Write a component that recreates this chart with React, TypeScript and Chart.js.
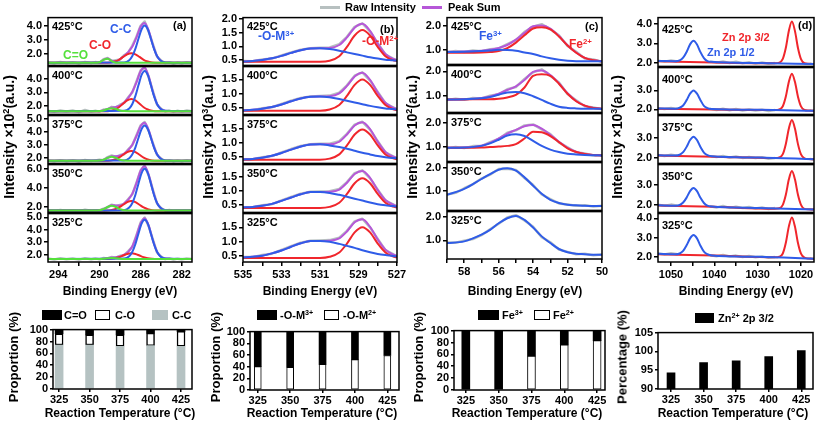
import React, { useEffect, useRef } from 'react';
import { Chart, registerables } from 'chart.js';
Chart.register(...registerables);

const FONT = 'Arial, "Liberation Sans", Helvetica, sans-serif';

// ---------------- DATA ----------------
const TOP_TEMPS = ['425°C', '400°C', '375°C', '350°C', '325°C'];

// (a) C 1s
const A_SUM_X = [295, 291, 290.4, 290, 289.6, 289.2, 288.8, 288.4, 288, 287.6, 287.2, 286.8, 286.4, 286, 285.6, 285.2, 284.8, 284.4, 284, 283.6, 283, 282, 281];
const A_SUM = [
  [1.4, 1.4, 1.4, 1.44, 1.61, 1.70, 1.55, 1.53, 1.66, 1.88, 2.15, 2.53, 3.17, 3.91, 4.18, 3.62, 2.64, 1.87, 1.53, 1.42, 1.4, 1.4, 1.4],
  [1.57, 1.57, 1.57, 1.58, 1.64, 1.75, 1.86, 1.90, 2.00, 2.24, 2.58, 3.04, 3.76, 4.59, 4.87, 4.19, 3.03, 2.13, 1.72, 1.60, 1.57, 1.57, 1.57],
  [1.8, 1.8, 1.8, 1.82, 1.89, 2.03, 2.15, 2.15, 2.18, 2.35, 2.63, 3.03, 3.69, 4.44, 4.70, 4.12, 3.09, 2.30, 1.93, 1.82, 1.8, 1.8, 1.8],
  [1.6, 1.6, 1.6, 1.63, 1.74, 1.98, 2.16, 2.14, 2.13, 2.35, 2.74, 3.38, 4.49, 5.78, 6.27, 5.35, 3.70, 2.40, 1.81, 1.64, 1.6, 1.6, 1.6],
  [1.65, 1.65, 1.65, 1.65, 1.67, 1.72, 1.76, 1.79, 1.85, 1.99, 2.22, 2.67, 3.50, 4.50, 4.92, 4.31, 3.14, 2.22, 1.80, 1.68, 1.65, 1.65, 1.65],
];
const A_RAW_X = [295, 294.4, 293.8, 293.2, 292.6, 292, 291.4, 290.8, 290.4, 290, 289.6, 289.2, 288.8, 288.4, 288, 287.6, 287.2, 286.8, 286.4, 286, 285.6, 285.2, 284.8, 284.4, 284, 283.6, 283.2, 282.8, 282.4, 282, 281.5, 281];
const A_RAW = [
  [1.43, 1.37, 1.45, 1.38, 1.44, 1.36, 1.46, 1.39, 1.45, 1.41, 1.66, 1.74, 1.52, 1.58, 1.63, 1.93, 2.12, 2.6, 3.22, 3.98, 4.28, 3.55, 2.7, 1.83, 1.56, 1.38, 1.44, 1.35, 1.42, 1.37, 1.44, 1.38],
  [1.6, 1.52, 1.63, 1.55, 1.62, 1.5, 1.66, 1.54, 1.61, 1.53, 1.7, 1.72, 1.9, 1.85, 2.06, 2.2, 2.63, 3.0, 3.82, 4.65, 4.92, 4.12, 3.1, 2.07, 1.76, 1.55, 1.62, 1.52, 1.6, 1.54, 1.63, 1.56],
  [1.83, 1.76, 1.85, 1.77, 1.84, 1.74, 1.86, 1.78, 1.83, 1.88, 1.85, 2.08, 2.2, 2.1, 2.24, 2.3, 2.68, 3.0, 3.75, 4.5, 4.76, 4.06, 3.15, 2.25, 1.97, 1.78, 1.85, 1.76, 1.83, 1.77, 1.84, 1.79],
  [1.63, 1.55, 1.66, 1.57, 1.64, 1.53, 1.67, 1.58, 1.64, 1.6, 1.8, 1.93, 2.22, 2.08, 2.19, 2.3, 2.8, 3.32, 4.55, 5.85, 6.33, 5.28, 3.78, 2.34, 1.86, 1.58, 1.65, 1.55, 1.62, 1.57, 1.64, 1.59],
  [1.68, 1.6, 1.7, 1.62, 1.69, 1.59, 1.71, 1.63, 1.69, 1.62, 1.72, 1.68, 1.8, 1.75, 1.9, 1.95, 2.27, 2.62, 3.56, 4.57, 4.98, 4.25, 3.2, 2.17, 1.84, 1.63, 1.7, 1.6, 1.67, 1.61, 1.69, 1.64],
];
const A_CC_X = [295, 287.6, 287.1, 286.8, 286.5, 286.2, 285.9, 285.6, 285.3, 285.0, 284.7, 284.4, 284.1, 283.6, 281];
const A_CC = [
  [1.4, 1.42, 1.58, 1.87, 2.39, 3.09, 3.74, 4.0, 3.74, 3.09, 2.39, 1.87, 1.58, 1.42, 1.4],
  [1.57, 1.6, 1.78, 2.12, 2.73, 3.55, 4.32, 4.62, 4.32, 3.55, 2.73, 2.12, 1.78, 1.6, 1.57],
  [1.8, 1.82, 1.99, 2.29, 2.83, 3.56, 4.23, 4.5, 4.23, 3.56, 2.83, 2.29, 1.99, 1.82, 1.8],
  [1.6, 1.64, 1.91, 2.39, 3.27, 4.46, 5.56, 6.0, 5.56, 4.46, 3.27, 2.39, 1.91, 1.64, 1.6],
  [1.65, 1.68, 1.87, 2.22, 2.85, 3.70, 4.49, 4.8, 4.49, 3.70, 2.85, 2.22, 1.87, 1.68, 1.65],
];
const A_CO_X = [295, 289.5, 288.9, 288.5, 288.1, 287.7, 287.3, 286.9, 286.5, 286.1, 285.7, 285.3, 284.9, 284.3, 281];
const A_CO = [
  [1.4, 1.4, 1.43, 1.49, 1.61, 1.81, 1.99, 2.07, 1.99, 1.81, 1.61, 1.49, 1.43, 1.4, 1.4],
  [1.57, 1.57, 1.61, 1.7, 1.87, 2.14, 2.39, 2.5, 2.39, 2.14, 1.87, 1.7, 1.61, 1.57, 1.57],
  [1.8, 1.8, 1.83, 1.9, 2.04, 2.26, 2.46, 2.55, 2.46, 2.26, 2.04, 1.9, 1.83, 1.8, 1.8],
  [1.6, 1.61, 1.64, 1.74, 1.92, 2.21, 2.48, 2.6, 2.48, 2.21, 1.92, 1.74, 1.64, 1.61, 1.6],
  [1.65, 1.65, 1.67, 1.71, 1.79, 1.92, 2.05, 2.1, 2.05, 1.92, 1.79, 1.71, 1.67, 1.65, 1.65],
];
const A_CDO_X = [295, 291, 290.5, 290, 289.6, 289.2, 288.8, 288.4, 288, 287.6, 287, 281];
const A_CDO = [
  [1.4, 1.4, 1.4, 1.44, 1.61, 1.69, 1.51, 1.41, 1.4, 1.4, 1.4, 1.4],
  [1.57, 1.57, 1.57, 1.58, 1.63, 1.74, 1.8, 1.74, 1.63, 1.58, 1.57, 1.57],
  [1.8, 1.8, 1.8, 1.82, 1.88, 2.02, 2.1, 2.02, 1.88, 1.82, 1.8, 1.8],
  [1.6, 1.6, 1.6, 1.63, 1.74, 1.97, 2.1, 1.97, 1.74, 1.63, 1.6, 1.6],
  [1.65, 1.65, 1.65, 1.65, 1.67, 1.71, 1.73, 1.71, 1.67, 1.65, 1.65, 1.65],
];
const A_Y_RANGE = [[1.22, 4.55], [1.33, 4.95], [1.6, 5.25], [1.4, 6.45], [1.4, 5.3]];
const A_Y_TICKS = [[2, 3, 4], [2, 3, 4], [2, 3, 4, 5], [2, 4, 6], [2, 3, 4, 5]];
const A_X_TICKS = [294, 292, 290, 288, 286, 284, 282];
const A_X_LABELS = [294, 290, 286, 282];

// (b) O 1s
const B_X = [535, 534.5, 534, 533.5, 533, 532.5, 532, 531.5, 531, 530.5, 530, 529.6, 529.2, 528.8, 528.4, 528, 527.6, 527.2, 527];
const B_M3 = [
  [0.44, 0.46, 0.50, 0.56, 0.65, 0.76, 0.86, 0.92, 0.93, 0.90, 0.84, 0.78, 0.72, 0.66, 0.60, 0.55, 0.51, 0.49, 0.47],
  [0.41, 0.43, 0.47, 0.53, 0.62, 0.73, 0.83, 0.89, 0.90, 0.87, 0.81, 0.75, 0.69, 0.63, 0.57, 0.52, 0.48, 0.46, 0.44],
  [0.41, 0.43, 0.47, 0.54, 0.64, 0.76, 0.87, 0.94, 0.95, 0.91, 0.85, 0.79, 0.72, 0.65, 0.59, 0.53, 0.49, 0.46, 0.45],
  [0.40, 0.42, 0.46, 0.53, 0.64, 0.76, 0.88, 0.96, 0.96, 0.93, 0.86, 0.79, 0.72, 0.65, 0.58, 0.52, 0.48, 0.45, 0.43],
  [0.46, 0.48, 0.52, 0.60, 0.70, 0.83, 0.95, 1.03, 1.03, 1.0, 0.93, 0.86, 0.79, 0.71, 0.64, 0.58, 0.54, 0.51, 0.49],
];
const B_M2 = [
  [0.43, 0.43, 0.43, 0.43, 0.43, 0.43, 0.43, 0.43, 0.43, 0.47, 0.64, 0.98, 1.40, 1.60, 1.40, 0.98, 0.64, 0.49, 0.46],
  [0.40, 0.40, 0.40, 0.40, 0.40, 0.40, 0.40, 0.40, 0.40, 0.44, 0.60, 0.92, 1.31, 1.50, 1.31, 0.92, 0.60, 0.45, 0.42],
  [0.40, 0.40, 0.40, 0.40, 0.40, 0.40, 0.40, 0.40, 0.40, 0.44, 0.59, 0.91, 1.30, 1.48, 1.30, 0.91, 0.59, 0.45, 0.42],
  [0.38, 0.38, 0.38, 0.38, 0.38, 0.38, 0.38, 0.38, 0.38, 0.42, 0.57, 0.89, 1.28, 1.46, 1.28, 0.89, 0.57, 0.43, 0.40],
  [0.44, 0.44, 0.44, 0.44, 0.44, 0.44, 0.44, 0.44, 0.44, 0.48, 0.63, 0.94, 1.33, 1.51, 1.33, 0.94, 0.63, 0.49, 0.46],
];
const B_SUM = [
  [0.44, 0.46, 0.50, 0.56, 0.65, 0.76, 0.86, 0.92, 0.93, 0.94, 1.05, 1.33, 1.69, 1.83, 1.57, 1.10, 0.72, 0.54, 0.50],
  [0.41, 0.43, 0.47, 0.53, 0.62, 0.73, 0.83, 0.89, 0.90, 0.91, 1.01, 1.27, 1.60, 1.73, 1.48, 1.04, 0.68, 0.51, 0.46],
  [0.41, 0.43, 0.47, 0.54, 0.64, 0.76, 0.87, 0.94, 0.95, 0.95, 1.04, 1.30, 1.62, 1.73, 1.49, 1.04, 0.68, 0.51, 0.47],
  [0.40, 0.42, 0.46, 0.53, 0.64, 0.76, 0.88, 0.96, 0.96, 0.97, 1.05, 1.30, 1.62, 1.73, 1.48, 1.03, 0.67, 0.50, 0.45],
  [0.46, 0.48, 0.52, 0.60, 0.70, 0.83, 0.95, 1.03, 1.03, 1.04, 1.12, 1.36, 1.68, 1.78, 1.52, 1.08, 0.73, 0.56, 0.51],
];
const B_RAW = [
  [0.46, 0.45, 0.52, 0.55, 0.67, 0.78, 0.88, 0.93, 0.95, 0.96, 1.08, 1.35, 1.72, 1.85, 1.55, 1.12, 0.7, 0.55, 0.48],
  [0.42, 0.42, 0.49, 0.52, 0.64, 0.75, 0.85, 0.9, 0.92, 0.93, 1.03, 1.29, 1.63, 1.75, 1.46, 1.06, 0.66, 0.52, 0.44],
  [0.42, 0.42, 0.49, 0.53, 0.66, 0.78, 0.89, 0.95, 0.97, 0.97, 1.06, 1.32, 1.65, 1.75, 1.47, 1.06, 0.66, 0.52, 0.45],
  [0.41, 0.41, 0.48, 0.52, 0.66, 0.78, 0.9, 0.97, 0.98, 0.99, 1.07, 1.32, 1.65, 1.75, 1.46, 1.05, 0.65, 0.51, 0.43],
  [0.47, 0.47, 0.54, 0.59, 0.72, 0.85, 0.97, 1.04, 1.05, 1.06, 1.14, 1.38, 1.71, 1.8, 1.5, 1.1, 0.71, 0.57, 0.49],
];
const B_Y_RANGE = [[0.3, 2.06], [0.27, 1.95], [0.27, 1.97], [0.22, 1.96], [0.3, 1.98]];
const B_Y_TICKS = [[0.5, 1, 1.5, 2], [0.5, 1, 1.5], [0.5, 1, 1.5], [0.5, 1, 1.5], [0.5, 1, 1.5]];
const B_X_TICKS = [535, 534, 533, 532, 531, 530, 529, 528, 527];
const B_X_LABELS = [535, 533, 531, 529, 527];

// (c) Fe 3p
const C_X = [59, 58, 57, 56.5, 56, 55.5, 55, 54.5, 54, 53.5, 53, 52.5, 52, 51.5, 51, 50.5, 50];
const C_FE3 = [
  [0.91, 0.92, 0.95, 0.97, 1.0, 0.99, 0.96, 0.89, 0.83, 0.73, 0.65, 0.59, 0.55, 0.53, 0.53, 0.53, 0.53],
  [0.87, 0.88, 0.92, 0.97, 1.06, 1.15, 1.17, 1.12, 1.0, 0.85, 0.70, 0.58, 0.53, 0.51, 0.5, 0.5, 0.49],
  [0.97, 0.98, 1.05, 1.15, 1.3, 1.47, 1.52, 1.45, 1.25, 1.05, 0.9, 0.8, 0.73, 0.7, 0.68, 0.67, 0.66],
  [0.84, 1.1, 1.53, 1.74, 1.93, 1.99, 1.89, 1.6, 1.24, 0.89, 0.63, 0.49, 0.41, 0.39, 0.37, 0.36, 0.36],
  [0.89, 0.96, 1.24, 1.44, 1.72, 1.93, 2.03, 1.86, 1.54, 1.17, 0.89, 0.64, 0.5, 0.44, 0.42, 0.4, 0.4],
];
const C_FE2 = [
  [0.88, 0.88, 0.89, 0.91, 0.95, 1.07, 1.30, 1.60, 1.88, 1.93, 1.84, 1.55, 1.18, 0.88, 0.67, 0.57, 0.53],
  [0.87, 0.87, 0.88, 0.88, 0.9, 0.95, 1.05, 1.35, 1.82, 1.88, 1.82, 1.5, 1.1, 0.8, 0.62, 0.53, 0.5],
  [0.97, 0.97, 0.98, 1.0, 1.02, 1.05, 1.12, 1.35, 1.62, 1.6, 1.45, 1.2, 0.95, 0.8, 0.72, 0.68, 0.66],
];
const C_SUM = [
  [0.92, 0.93, 0.96, 1.0, 1.08, 1.2, 1.42, 1.7, 1.97, 2.0, 1.88, 1.57, 1.19, 0.89, 0.67, 0.57, 0.53],
  [0.87, 0.88, 0.93, 0.99, 1.1, 1.25, 1.4, 1.65, 1.98, 2.03, 1.85, 1.52, 1.12, 0.81, 0.62, 0.53, 0.5],
  [0.97, 0.98, 1.06, 1.17, 1.35, 1.55, 1.7, 1.85, 1.9, 1.75, 1.5, 1.22, 0.97, 0.81, 0.72, 0.68, 0.66],
];
const C_RAW_X = [59, 58.5, 58, 57.5, 57, 56.5, 56, 55.5, 55, 54.5, 54, 53.5, 53, 52.5, 52, 51.5, 51, 50.5, 50];
const C_RAW = [
  [0.9, 0.95, 0.91, 0.97, 0.94, 1.03, 1.06, 1.24, 1.4, 1.74, 1.95, 2.06, 1.85, 1.6, 1.16, 0.92, 0.64, 0.6, 0.51],
  [0.85, 0.9, 0.86, 0.93, 0.91, 1.02, 1.08, 1.28, 1.37, 1.69, 1.96, 2.08, 1.82, 1.55, 1.09, 0.84, 0.6, 0.55, 0.48],
  [0.95, 1.0, 0.96, 1.04, 1.04, 1.2, 1.33, 1.58, 1.68, 1.88, 1.92, 1.72, 1.53, 1.19, 0.99, 0.79, 0.74, 0.66, 0.67],
  [0.86, 0.93, 1.13, 1.3, 1.55, 1.72, 1.96, 1.97, 1.92, 1.57, 1.27, 0.86, 0.66, 0.47, 0.43, 0.37, 0.39, 0.34, 0.37],
  [0.91, 0.9, 0.99, 1.06, 1.22, 1.47, 1.7, 1.96, 2.06, 1.84, 1.57, 1.14, 0.92, 0.62, 0.52, 0.42, 0.44, 0.38, 0.41],
];
const C_Y_RANGE = [[0.4, 2.33], [0.35, 2.23], [0.42, 2.36], [0.17, 2.24], [0.22, 2.21]];
const C_Y_TICKS = [[1, 2], [1, 2], [1, 2], [1, 2], [1, 2]];
const C_X_TICKS = [59, 58, 57, 56, 55, 54, 53, 52, 51, 50];
const C_X_LABELS = [58, 56, 54, 52, 50];

// (d) Zn 2p
const D_BLUE_X = [1053, 1049, 1048, 1047.2, 1046.4, 1045.6, 1044.8, 1044, 1043.2, 1042.4, 1041.6, 1040.6, 1030, 1017];
const D_BLUE = [
  [2.11, 2.10, 2.14, 2.28, 2.57, 2.95, 3.13, 2.94, 2.56, 2.26, 2.11, 2.07, 2.01, 1.96],
  [2.05, 2.04, 2.09, 2.21, 2.49, 2.83, 3.0, 2.83, 2.49, 2.19, 2.07, 2.02, 1.98, 1.93],
  [2.13, 2.12, 2.16, 2.29, 2.56, 2.91, 3.08, 2.91, 2.55, 2.27, 2.14, 2.08, 2.02, 1.93],
  [2.0, 1.98, 2.01, 2.13, 2.37, 2.69, 2.84, 2.69, 2.36, 2.11, 1.98, 1.94, 1.87, 1.79],
  [2.17, 2.15, 2.19, 2.32, 2.61, 2.97, 3.14, 2.97, 2.59, 2.28, 2.15, 2.09, 2.02, 1.92],
];
const D_RED_X = [1053, 1040, 1026, 1025, 1024.2, 1023.5, 1022.8, 1022.1, 1021.4, 1020.7, 1020, 1019.2, 1018.2, 1017];
const D_RED = [
  [2.10, 2.04, 2.00, 2.03, 2.22, 2.78, 3.64, 4.10, 3.63, 2.77, 2.21, 2.0, 1.97, 1.96],
  [2.04, 2.0, 1.97, 2.0, 2.17, 2.68, 3.46, 3.88, 3.45, 2.67, 2.16, 1.97, 1.94, 1.93],
  [2.12, 2.06, 1.99, 2.02, 2.19, 2.71, 3.5, 3.93, 3.49, 2.70, 2.18, 1.98, 1.94, 1.93],
  [1.99, 1.92, 1.83, 1.85, 2.02, 2.51, 3.26, 3.67, 3.26, 2.51, 2.02, 1.82, 1.80, 1.79],
  [2.15, 2.08, 1.99, 2.02, 2.19, 2.74, 3.59, 4.05, 3.58, 2.73, 2.18, 1.97, 1.93, 1.92],
];
const D_RAW_X = [1053, 1051.5, 1050, 1048.5, 1045, 1041, 1039.5, 1038, 1036.5, 1035, 1033.5, 1032, 1030.5, 1029, 1027.5, 1026, 1022, 1018, 1017];
const D_RAW = [
  [2.13, 2.08, 2.14, 2.09, null, 2.08, 2.03, 2.09, 2.01, 2.07, 2.0, 2.05, 1.98, 2.04, 1.97, 2.01, null, 1.98, 1.95],
  [2.07, 2.02, 2.08, 2.03, null, 2.03, 1.97, 2.04, 1.96, 2.02, 1.95, 2.0, 1.94, 1.99, 1.92, 1.97, null, 1.95, 1.92],
  [2.15, 2.1, 2.16, 2.11, null, 2.09, 2.04, 2.1, 2.02, 2.07, 2.0, 2.05, 1.99, 2.03, 1.96, 2.0, null, 1.95, 1.92],
  [2.02, 1.97, 2.03, 1.98, null, 1.95, 1.89, 1.96, 1.87, 1.93, 1.86, 1.91, 1.84, 1.89, 1.82, 1.86, null, 1.81, 1.78],
  [2.19, 2.14, 2.2, 2.15, null, 2.1, 2.05, 2.11, 2.03, 2.08, 2.01, 2.06, 2.0, 2.04, 1.97, 2.01, null, 1.95, 1.91],
];
const D_Y_RANGE = [[1.84, 4.3], [1.74, 4.2], [1.72, 4.15], [1.65, 3.98], [1.75, 4.25]];
const D_Y_TICKS = [[2, 3, 4], [2, 3], [2, 3], [2, 3], [2, 3, 4]];
const D_X_TICKS = [1050, 1045, 1040, 1035, 1030, 1025, 1020];
const D_X_LABELS = [1050, 1040, 1030, 1020];

// Bar charts
const TEMPS = [325, 350, 375, 400, 425];
const C_DOUBLE_O = [7, 9, 9, 6, 3];
const C_SINGLE_O = [19, 17, 19, 21, 25];
const C_C = [74, 74, 72, 73, 72];
const O_M3 = [60, 61, 56, 48, 41];
const O_M2 = [40, 39, 44, 52, 59];
const FE3_PCT = [100, 100, 43, 24, 17];
const FE2_PCT = [0, 0, 57, 76, 83];
const ZN2_PCT = [94.3, 97.0, 97.5, 98.6, 100.2];
const PROP_TICKS = [0, 20, 40, 60, 80, 100];
const ZN_TICKS = [90, 95, 100, 105];

// ---------------- STYLE ----------------
const BLUE = '#2f5ce8';
const RED = '#f0262c';
const GREEN = '#55e03c';
const PURPLE = '#b657d8';
const GRAY = '#b7c0c0';
const CC_GRAY = '#b5c2c2';

Chart.defaults.font.family = FONT;

const framePlugin = {
  id: 'frame',
  afterDraw(chart: any) {
    const { ctx, chartArea: a } = chart;
    ctx.save();
    ctx.strokeStyle = '#000';
    ctx.lineWidth = 1.5;
    ctx.strokeRect(a.left, a.top, a.right - a.left, a.bottom - a.top);
    ctx.restore();
  },
};

const gridOpts = (len: number) => ({
  display: true, drawOnChartArea: false, drawTicks: true, tickLength: len,
  color: '#000', lineWidth: 1.5, offset: false,
});
const tickFont = { family: FONT, size: 11, weight: 'bold' as any };

function SpectrumPanel(p: any) {
  const ref = useRef<HTMLCanvasElement>(null);
  const yW = 30, padT = 8, xH = 20;
  const plotW = p.plotR - p.plotL;
  const plotH = p.plotB - p.plotT;
  const W = yW + plotW + p.padR;
  const H = padT + plotH + (p.bottom ? xH : 8);
  useEffect(() => {
    const chart = new Chart(ref.current as HTMLCanvasElement, {
      type: 'line',
      data: {
        datasets: p.series.map((s: any) => ({
          data: s.xs.map((x: number, i: number) => ({ x, y: s.ys[i] })),
          borderColor: s.color,
          borderWidth: s.w,
          pointRadius: 0,
          fill: false,
          tension: s.smooth ? 0.4 : 0,
          cubicInterpolationMode: s.smooth ? 'monotone' : 'default',
          borderJoinStyle: 'round',
          spanGaps: false,
        })),
      },
      options: {
        responsive: false,
        animation: false,
        devicePixelRatio: 1,
        events: [],
        layout: { padding: { left: 0, right: p.padR, top: padT, bottom: p.bottom ? 0 : 8 } },
        plugins: { legend: { display: false }, tooltip: { enabled: false } },
        scales: {
          x: {
            type: 'linear', reverse: true, min: p.xMin, max: p.xMax, display: !!p.bottom,
            afterBuildTicks: (s: any) => { s.ticks = p.xTicks.map((v: number) => ({ value: v })); },
            afterFit: (s: any) => { if (p.bottom) s.height = xH; },
            grid: gridOpts(4),
            border: { display: false },
            ticks: {
              autoSkip: false, maxRotation: 0, padding: 2, color: '#000', font: tickFont,
              callback: (v: any) => (p.xLabels.includes(v) ? String(v) : ''),
            },
          },
          y: {
            type: 'linear', min: p.yMin, max: p.yMax,
            afterBuildTicks: (s: any) => { s.ticks = p.yTicks.map((v: number) => ({ value: v })); },
            afterFit: (s: any) => { s.width = yW; },
            grid: gridOpts(4),
            border: { display: false },
            ticks: { autoSkip: false, padding: 2, color: '#000', font: tickFont, callback: (v: any) => Number(v).toFixed(1) },
          },
        },
      } as any,
      plugins: [framePlugin],
    });
    return () => chart.destroy();
  }, []);
  return (
    <canvas ref={ref} width={W} height={H}
      style={{ position: 'absolute', left: p.plotL - yW, top: p.plotT - padT, width: W, height: H }} />
  );
}

function BarPanel(p: any) {
  const ref = useRef<HTMLCanvasElement>(null);
  const yW = 30, padT = 8, xH = 18;
  const plotW = p.plotR - p.plotL;
  const plotH = p.plotB - p.plotT;
  const W = yW + plotW + p.padR;
  const H = padT + plotH + xH;
  useEffect(() => {
    const chart = new Chart(ref.current as HTMLCanvasElement, {
      type: 'bar',
      data: {
        datasets: p.datasets.map((d: any) => ({
          data: TEMPS.map((t, i) => ({ x: t, y: d.values[i] })),
          backgroundColor: d.bg,
          borderColor: '#000',
          borderWidth: d.bw,
          borderSkipped: false,
          barThickness: p.barW,
        })),
      },
      options: {
        responsive: false,
        animation: false,
        devicePixelRatio: 1,
        events: [],
        layout: { padding: { left: 0, right: p.padR, top: padT, bottom: 0 } },
        plugins: { legend: { display: false }, tooltip: { enabled: false } },
        scales: {
          x: {
            type: 'linear', min: p.xMin, max: p.xMax, stacked: true, offset: false,
            afterBuildTicks: (s: any) => { s.ticks = TEMPS.map((v) => ({ value: v })); },
            afterFit: (s: any) => { s.height = xH; },
            grid: gridOpts(3),
            border: { display: false },
            ticks: { autoSkip: false, maxRotation: 0, padding: 1, color: '#000', font: tickFont, callback: (v: any) => String(v) },
          },
          y: {
            type: 'linear', min: p.yMin, max: p.yMax, stacked: true,
            afterBuildTicks: (s: any) => { s.ticks = p.yTicks.map((v: number) => ({ value: v })); },
            afterFit: (s: any) => { s.width = yW; },
            grid: gridOpts(3),
            border: { display: false },
            ticks: { autoSkip: false, padding: 2, color: '#000', font: tickFont, callback: (v: any) => String(v) },
          },
        },
      } as any,
      plugins: [framePlugin],
    });
    return () => chart.destroy();
  }, []);
  return (
    <canvas ref={ref} width={W} height={H}
      style={{ position: 'absolute', left: p.plotL - yW, top: p.plotT - padT, width: W, height: H }} />
  );
}

function Txt({ x, y, size = 11, color = '#000', align = 'left', rotate = false, children }: any) {
  const tx = align === 'center' ? '-50%' : align === 'right' ? '-100%' : '0';
  return (
    <div style={{
      position: 'absolute', left: x, top: y,
      transform: rotate ? 'translate(-50%,-50%) rotate(-90deg)' : `translate(${tx},-50%)`,
      fontSize: size, fontWeight: 'bold', color, whiteSpace: 'nowrap', lineHeight: 1, fontFamily: FONT,
    }}>{children}</div>
  );
}
const Sup = ({ children }: any) => <span style={{ fontSize: '0.65em', verticalAlign: '0.5em', lineHeight: 0 }}>{children}</span>;
const Box = ({ x, y, w, h, bg, border }: any) => (
  <div style={{ position: 'absolute', left: x, top: y, width: w, height: h, background: bg, boxSizing: 'border-box', border: border ? '1.5px solid #000' : 'none' }} />
);

const COLS = [
  { key: 'a', plotL: 48, plotR: 192, padR: 14, tops: [17, 66, 115, 164, 213, 262], xMin: 281, xMax: 295, xTicks: A_X_TICKS, xLabels: A_X_LABELS, yr: A_Y_RANGE, yt: A_Y_TICKS },
  { key: 'b', plotL: 243, plotR: 397, padR: 14, tops: [17, 66, 115, 164, 213, 262], xMin: 527, xMax: 535, xTicks: B_X_TICKS, xLabels: B_X_LABELS, yr: B_Y_RANGE, yt: B_Y_TICKS },
  { key: 'c', plotL: 447, plotR: 602, padR: 14, tops: [17, 65, 113, 162, 211, 259], xMin: 50, xMax: 59, xTicks: C_X_TICKS, xLabels: C_X_LABELS, yr: C_Y_RANGE, yt: C_Y_TICKS },
  { key: 'd', plotL: 658, plotR: 814, padR: 3, tops: [17, 67, 115, 164, 213, 262], xMin: 1017, xMax: 1053, xTicks: D_X_TICKS, xLabels: D_X_LABELS, yr: D_Y_RANGE, yt: D_Y_TICKS },
];

function seriesFor(key: string, i: number) {
  const S = (xs: number[], ys: any[], color: string, w = 2, smooth = true) => ({ xs, ys, color, w, smooth });
  if (key === 'a') return [
    S(A_CDO_X, A_CDO[i], GREEN), S(A_CC_X, A_CC[i], BLUE), S(A_CO_X, A_CO[i], RED),
    S(A_SUM_X, A_SUM[i], PURPLE), S(A_RAW_X, A_RAW[i], GRAY, 2.5, false),
  ];
  if (key === 'b') return [
    S(B_X, B_M3[i], BLUE), S(B_X, B_M2[i], RED), S(B_X, B_SUM[i], PURPLE), S(B_X, B_RAW[i], GRAY, 2.5, false),
  ];
  if (key === 'c') {
    if (i < 3) return [
      S(C_X, C_FE3[i], BLUE), S(C_X, C_FE2[i], RED), S(C_X, C_SUM[i], PURPLE), S(C_RAW_X, C_RAW[i], GRAY, 2.5, false),
    ];
    return [S(C_X, C_FE3[i], BLUE), S(C_RAW_X, C_RAW[i], GRAY, 2.5, false)];
  }
  return [S(D_BLUE_X, D_BLUE[i], BLUE), S(D_RED_X, D_RED[i], RED), S(D_RAW_X, D_RAW[i], GRAY, 2.5, false)];
}

export default function App() {
  const panels: any[] = [];
  COLS.forEach((c) => {
    for (let i = 0; i < 5; i++) {
      panels.push(
        <SpectrumPanel key={c.key + i} plotL={c.plotL} plotR={c.plotR} padR={c.padR}
          plotT={c.tops[i]} plotB={c.tops[i + 1]} bottom={i === 4}
          xMin={c.xMin} xMax={c.xMax} xTicks={c.xTicks} xLabels={c.xLabels}
          yMin={c.yr[i][0]} yMax={c.yr[i][1]} yTicks={c.yt[i]} series={seriesFor(c.key, i)} />,
      );
    }
  });
  const tempLabels: any[] = [];
  COLS.forEach((c) => {
    for (let i = 0; i < 5; i++) {
      tempLabels.push(<Txt key={'t' + c.key + i} x={c.plotL + 4} y={c.tops[i] + (c.key === 'd' ? 12 : 9)} size={11}>{TOP_TEMPS[i]}</Txt>);
    }
  });
  return (
    <div style={{ position: 'fixed', left: 0, top: 0, width: 817, height: 422, overflow: 'hidden', background: '#fff', fontFamily: FONT }}>
      {panels}
      <BarPanel plotL={53} plotR={192} plotT={329} plotB={389} padR={14} xMin={320} xMax={434} yMin={0} yMax={100} yTicks={PROP_TICKS} barW={8}
        datasets={[{ values: C_C, bg: CC_GRAY, bw: 0 }, { values: C_SINGLE_O, bg: '#fff', bw: 1.5 }, { values: C_DOUBLE_O, bg: '#000', bw: 0 }]} />
      <BarPanel plotL={250} plotR={399} plotT={331} plotB={390} padR={14} xMin={319} xMax={434} yMin={0} yMax={100} yTicks={PROP_TICKS} barW={7}
        datasets={[{ values: O_M2, bg: '#fff', bw: 1 }, { values: O_M3, bg: '#000', bw: 0 }]} />
      <BarPanel plotL={454} plotR={605} plotT={330} plotB={390} padR={12} xMin={316} xMax={431} yMin={0} yMax={100} yTicks={PROP_TICKS} barW={8}
        datasets={[{ values: FE2_PCT, bg: '#fff', bw: 1 }, { values: FE3_PCT, bg: '#000', bw: 0 }]} />
      <BarPanel plotL={658} plotR={813} plotT={332} plotB={389} padR={4} xMin={315} xMax={434} yMin={90} yMax={105} yTicks={ZN_TICKS} barW={8}
        datasets={[{ values: ZN2_PCT, bg: '#000', bw: 0 }]} />

      {/* top legend */}
      <div style={{ position: 'absolute', left: 320, top: 6, width: 20, height: 3, background: GRAY }} />
      <Txt x={345} y={7} size={11}>Raw Intensity</Txt>
      <div style={{ position: 'absolute', left: 422, top: 6, width: 20, height: 2.5, background: PURPLE }} />
      <Txt x={448} y={7} size={11}>Peak Sum</Txt>

      {tempLabels}

      {/* peak labels */}
      <Txt x={110} y={29} size={12} color={BLUE}>C-C</Txt>
      <Txt x={89} y={45} size={12} color={RED}>C-O</Txt>
      <Txt x={63} y={55} size={12} color={GREEN}>C=O</Txt>
      <Txt x={173} y={25} size={11}>(a)</Txt>
      <Txt x={258} y={36} size={12} color={BLUE}>-O-M<Sup>3+</Sup></Txt>
      <Txt x={362} y={41} size={12} color={RED}>-O-M<Sup>2+</Sup></Txt>
      <Txt x={380} y={29} size={11}>(b)</Txt>
      <Txt x={479} y={36} size={12} color={BLUE}>Fe<Sup>3+</Sup></Txt>
      <Txt x={569} y={44} size={12} color={RED}>Fe<Sup>2+</Sup></Txt>
      <Txt x={585} y={26} size={11}>(c)</Txt>
      <Txt x={722} y={37} size={11} color={RED}>Zn 2p 3/2</Txt>
      <Txt x={707} y={52} size={11} color={BLUE}>Zn 2p 1/2</Txt>
      <Txt x={798} y={25} size={11}>(d)</Txt>

      {/* axis titles top */}
      <Txt x={120} y={291} size={12} align="center">Binding Energy (eV)</Txt>
      <Txt x={320} y={291} size={12} align="center">Binding Energy (eV)</Txt>
      <Txt x={525} y={291} size={12} align="center">Binding Energy (eV)</Txt>
      <Txt x={736} y={291} size={12} align="center">Binding Energy (eV)</Txt>
      <Txt x={9} y={137} size={14} rotate>Intensity ×10<Sup>2</Sup>(a.u.)</Txt>
      <Txt x={208} y={137} size={14} rotate>Intensity ×10<Sup>3</Sup>(a.u.)</Txt>
      <Txt x={412} y={137} size={14} rotate>Intensity ×10<Sup>2</Sup>(a.u.)</Txt>
      <Txt x={617} y={137} size={14} rotate>Intensity ×10<Sup>3</Sup>(a.u.)</Txt>

      {/* bar legends */}
      <Box x={42} y={310} w={20} h={10} bg="#000" />
      <Txt x={64} y={315} size={11}>C=O</Txt>
      <Box x={95} y={310} w={15} h={10} bg="#fff" border />
      <Txt x={115} y={315} size={11}>C-O</Txt>
      <Box x={152} y={310} w={16} h={10} bg={CC_GRAY} />
      <Txt x={172} y={315} size={11}>C-C</Txt>

      <Box x={257} y={310} w={20} h={10} bg="#000" />
      <Txt x={280} y={315} size={11}>-O-M<Sup>3+</Sup></Txt>
      <Box x={324} y={310} w={15} h={10} bg="#fff" border />
      <Txt x={343} y={315} size={11}>-O-M<Sup>2+</Sup></Txt>

      <Box x={478} y={310} w={21} h={10} bg="#000" />
      <Txt x={502} y={315} size={11}>Fe<Sup>3+</Sup></Txt>
      <Box x={534} y={310} w={16} h={10} bg="#fff" border />
      <Txt x={553} y={315} size={11}>Fe<Sup>2+</Sup></Txt>

      <Box x={695} y={313} w={19} h={10} bg="#000" />
      <Txt x={718} y={318} size={11}>Zn<Sup>2+</Sup> 2p 3/2</Txt>

      {/* bar axis titles */}
      <Txt x={13} y={357} size={13} rotate>Proportion (%)</Txt>
      <Txt x={215} y={357} size={13} rotate>Proportion (%)</Txt>
      <Txt x={418} y={357} size={13} rotate>Proportion (%)</Txt>
      <Txt x={622} y={357} size={13} rotate>Percentage (%)</Txt>
      <Txt x={120} y={413} size={12} align="center">Reaction Temperature (°C)</Txt>
      <Txt x={322} y={413} size={12} align="center">Reaction Temperature (°C)</Txt>
      <Txt x={527} y={413} size={12} align="center">Reaction Temperature (°C)</Txt>
      <Txt x={733} y={413} size={12} align="center">Reaction Temperature (°C)</Txt>
    </div>
  );
}
